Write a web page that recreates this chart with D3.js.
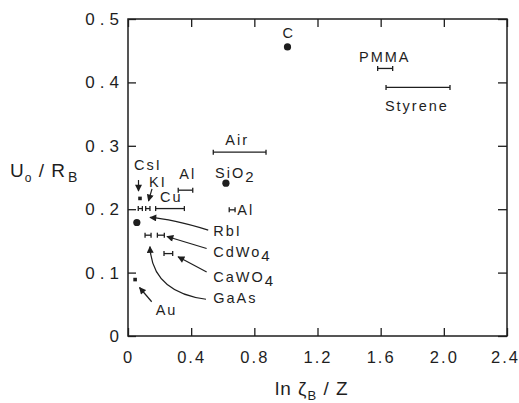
<!DOCTYPE html>
<html>
<head>
<meta charset="utf-8">
<script src="https://cdn.jsdelivr.net/npm/d3@7"></script>
<style>
  body { margin: 0; background: #fff; }
  text { font-family: "Liberation Sans", Arial, sans-serif; fill: #1e1e1e; }
</style>
</head>
<body>
<svg id="chart" width="519" height="403"></svg>
<script>
// axis ticks
const xTicks = [0, 0.4, 0.8, 1.2, 1.6, 2.0, 2.4]
const xTickLabels = ["0", "0.4", "0.8", "1.2", "1.6", "2.0", "2.4"]
const yTicks = [0, 0.1, 0.2, 0.3, 0.4, 0.5]
const yTickLabels = ["0", "0.1", "0.2", "0.3", "0.4", "0.5"]

// filled dots
const dotNames = ["C", "SiO2", "?"]
const dotX = [1.01, 0.62, 0.056]
const dotY = [0.456, 0.241, 0.179]

// small squares
const squareNames = ["CsI", "Au"]
const squareX = [0.076, 0.045]
const squareY = [0.217, 0.089]

// horizontal range bars (lo..hi at y)
const barNames = ["PMMA", "Styrene", "Air", "Al", "Al", "Cu", "KI", "RbI", "GaAs", "CdWo4", "CaWO4"]
const barLo = [1.581, 1.634, 0.540, 0.318, 0.641, 0.175, 0.065, 0.112, 0.108, 0.186, 0.228]
const barHi = [1.676, 2.039, 0.874, 0.410, 0.678, 0.357, 0.091, 0.139, 0.146, 0.230, 0.283]
const barY = [0.422, 0.392, 0.290, 0.230, 0.199, 0.201, 0.201, 0.201, 0.159, 0.159, 0.130]

// text labels ("_" starts a subscript)
const labelText = ["C", "PMMA", "Styrene", "Air", "SiO_2", "Al", "Al", "CsI", "KI", "Cu", "RbI", "CdWo_4", "CaWO_4", "GaAs", "Au"]
const labelX = [0.978, 1.463, 1.627, 0.616, 0.551, 0.325, 0.692, 0.038, 0.133, 0.203, 0.540, 0.540, 0.540, 0.540, 0.175]
const labelY = [0.4695, 0.432, 0.355, 0.301, 0.250, 0.247, 0.191, 0.262, 0.235, 0.211, 0.157, 0.125, 0.0856, 0.0513, 0.0331]

// arrows: from -> to, optional bend point
const arrowNames = ["CsI", "KI", "RbI", "CdWo4", "CaWO4", "GaAs", "Au"]
const arrowX0 = [0.0665, 0.152, 0.508, 0.498, 0.498, 0.494, 0.150]
const arrowY0 = [0.246, 0.232, 0.167, 0.138, 0.101, 0.058, 0.054]
const arrowX1 = [0.0665, 0.130, 0.139, 0.247, 0.317, 0.139, 0.073]
const arrowY1 = [0.2287, 0.213, 0.187, 0.157, 0.125, 0.141, 0.0765]
const arrowCX = [null, null, 0.279, null, null, 0.152, null]
const arrowCY = [null, null, 0.1845, null, null, 0.069, null]

const ink = "#1e1e1e"
const svg = d3.select("#chart")
const x = d3.scaleLinear().domain([0, 2.4]).range([128, 507])
const y = d3.scaleLinear().domain([0, 0.5]).range([336, 19])

// frame
svg.append("rect")
    .attr("x", x(0)).attr("y", y(0.5))
    .attr("width", x(2.4) - x(0)).attr("height", y(0) - y(0.5))
    .attr("fill", "none").attr("stroke", ink).attr("stroke-width", 1.5)

function styleAxis(g) {
    g.select(".domain").remove()
    g.selectAll("line").attr("stroke", ink).attr("stroke-width", 1.3)
    g.selectAll("text")
        .attr("fill", ink)
        .style("font-family", '"Liberation Sans", Arial, sans-serif')
        .style("font-size", "17px")
}

svg.append("g")
    .attr("transform", `translate(0,${y(0)})`)
    .call(d3.axisBottom(x).tickValues(xTicks).tickSizeInner(-8).tickSizeOuter(0)
        .tickPadding(15).tickFormat((d, i) => xTickLabels[i]))
    .call(styleAxis)
    .call(g => g.selectAll("text").style("font-size", "16.5px").style("letter-spacing", "2px")
        .attr("dx", d => d === 2.4 ? "-2px" : "0px"))

svg.append("g")
    .attr("transform", `translate(${x(0)},0)`)
    .call(d3.axisLeft(y).tickValues(yTicks).tickSizeInner(-8).tickSizeOuter(0)
        .tickPadding(4).tickFormat((d, i) => yTickLabels[i]))
    .call(styleAxis)
    .call(g => g.selectAll("text").style("letter-spacing", "5px"))

svg.append("g")
    .attr("transform", `translate(0,${y(0.5)})`)
    .call(d3.axisTop(x).tickValues(xTicks).tickSizeInner(-8).tickSizeOuter(0).tickFormat(""))
    .call(styleAxis)

svg.append("g")
    .attr("transform", `translate(${x(2.4)},0)`)
    .call(d3.axisRight(y).tickValues(yTicks).tickSizeInner(-9).tickSizeOuter(0).tickFormat(""))
    .call(styleAxis)

// axis titles
const yTitle = svg.append("text").attr("x", 10).attr("y", 176.5)
    .style("font-size", "19px").style("letter-spacing", "1px")
yTitle.append("tspan").text("U")
yTitle.append("tspan").text("o").attr("dy", 5).style("font-size", "12px")
yTitle.append("tspan").text(" / ").attr("dy", -5)
yTitle.append("tspan").text("R")
yTitle.append("tspan").text("B").attr("dy", 5).style("font-size", "14px").attr("dx", 2)

const xTitle = svg.append("text").attr("x", 275).attr("y", 395)
    .style("font-size", "19px").style("letter-spacing", "1px")
xTitle.append("tspan").text("ln ζ")
xTitle.append("tspan").text("B").attr("dy", 5).style("font-size", "13px")
xTitle.append("tspan").text(" / Z").attr("dy", -5)

// arrow head marker
svg.append("defs").append("marker")
    .attr("id", "head").attr("viewBox", "0 0 10 10")
    .attr("refX", 9).attr("refY", 5)
    .attr("markerWidth", 8).attr("markerHeight", 7)
    .attr("markerUnits", "userSpaceOnUse")
    .attr("orient", "auto")
    .append("path").attr("d", "M0,0L10,5L0,10Z").attr("fill", ink)

const arrows = arrowNames.map((n, i) => ({
    x0: arrowX0[i], y0: arrowY0[i], x1: arrowX1[i], y1: arrowY1[i],
    cx: arrowCX[i], cy: arrowCY[i]
}))
svg.append("g").selectAll("path")
    .data(arrows)
    .join("path")
    .attr("d", d => {
        const p = d3.path()
        p.moveTo(x(d.x0), y(d.y0))
        if (d.cx !== null) p.quadraticCurveTo(x(d.cx), y(d.cy), x(d.x1), y(d.y1))
        else p.lineTo(x(d.x1), y(d.y1))
        return p.toString()
    })
    .attr("fill", "none").attr("stroke", ink).attr("stroke-width", 1.2)
    .attr("marker-end", "url(#head)")

// range bars with end caps
const bars = barNames.map((n, i) => ({lo: barLo[i], hi: barHi[i], y: barY[i]}))
const barG = svg.append("g").attr("stroke", ink).attr("stroke-width", 1.3)
barG.selectAll("line.span").data(bars).join("line").attr("class", "span")
    .attr("x1", d => x(d.lo)).attr("x2", d => x(d.hi))
    .attr("y1", d => y(d.y)).attr("y2", d => y(d.y))
barG.selectAll("line.capL").data(bars).join("line").attr("class", "capL")
    .attr("x1", d => x(d.lo)).attr("x2", d => x(d.lo))
    .attr("y1", d => y(d.y) - 2.5).attr("y2", d => y(d.y) + 2.5)
barG.selectAll("line.capR").data(bars).join("line").attr("class", "capR")
    .attr("x1", d => x(d.hi)).attr("x2", d => x(d.hi))
    .attr("y1", d => y(d.y) - 2.5).attr("y2", d => y(d.y) + 2.5)

// dots
svg.append("g").selectAll("circle")
    .data(dotNames.map((n, i) => ({x: dotX[i], y: dotY[i]})))
    .join("circle")
    .attr("cx", d => x(d.x)).attr("cy", d => y(d.y)).attr("r", 3.6)
    .attr("fill", ink)

// squares
svg.append("g").selectAll("rect")
    .data(squareNames.map((n, i) => ({x: squareX[i], y: squareY[i]})))
    .join("rect")
    .attr("x", d => x(d.x) - 1.8).attr("y", d => y(d.y) - 1.8)
    .attr("width", 3.6).attr("height", 3.6)
    .attr("fill", ink)

// labels
const labels = svg.append("g").selectAll("text")
    .data(labelText.map((t, i) => ({t, x: labelX[i], y: labelY[i]})))
    .join("text")
    .attr("x", d => x(d.x)).attr("y", d => y(d.y))
    .style("font-size", "14.5px").style("letter-spacing", "2px")
labels.each(function (d) {
    const parts = d.t.split("_")
    const t = d3.select(this)
    t.append("tspan").text(parts[0])
    if (parts[1]) t.append("tspan").text(parts[1]).attr("dy", 4).style("font-size", "15px")
})
</script>
</body>
</html>
